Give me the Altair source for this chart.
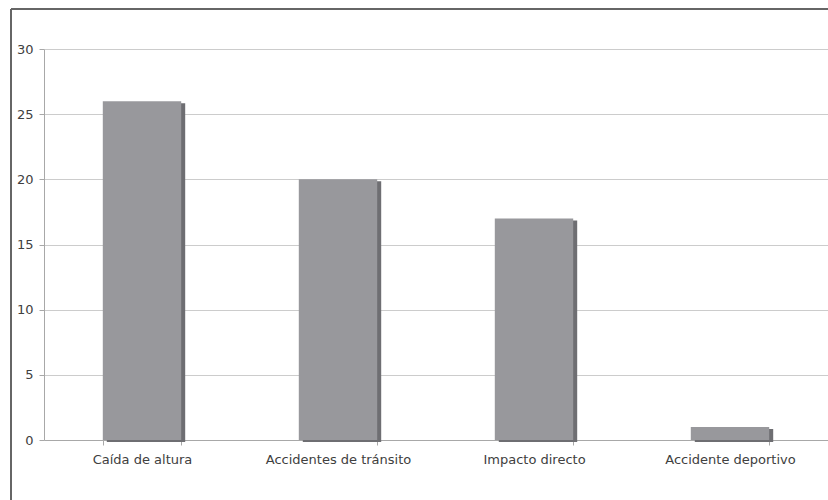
import altair as alt
import pandas as pd

categories = ["Caída de altura", "Accidentes de tránsito", "Impacto directo", "Accidente deportivo"]
values = [26, 20, 17, 1]

df = pd.DataFrame({"cat": categories, "val": values})

xenc = alt.X("cat:N", sort=categories, title=None,
             scale=alt.Scale(paddingInner=0.6, paddingOuter=0.3),
             axis=alt.Axis(labelAngle=0, tickBand="extent", domainColor="#a8a8a8",
                           tickColor="#a8a8a8", tickSize=5, labelPadding=8,
                           labelColor="#404040", labelFontSize=13, labelFont="DejaVu Sans",
                           grid=False))
yenc = alt.Y("val:Q", title=None,
             scale=alt.Scale(domain=[0, 30], nice=False),
             axis=alt.Axis(values=[0, 5, 10, 15, 20, 25, 30], domainColor="#a8a8a8",
                           tickColor="#a8a8a8", tickSize=5, labelPadding=6,
                           labelColor="#404040", labelFontSize=13, labelFont="DejaVu Sans",
                           gridColor="#cccccc", gridWidth=1))

shadow = alt.Chart(df).mark_bar(color="#6e6e72", xOffset=4, x2Offset=4, yOffset=2, y2Offset=-2).encode(
    x=xenc, y=yenc)
bars = alt.Chart(df).mark_bar(color="#98989c").encode(x=xenc, y=yenc)

left_border = alt.Chart(df).mark_rule(color="#666666", strokeWidth=1.5).encode(
    x=alt.value(-33), y=alt.value(-40), y2=alt.value(460))
top_border = alt.Chart(df).mark_rule(color="#666666", strokeWidth=1.5).encode(
    x=alt.value(-33), x2=alt.value(800), y=alt.value(-40))

chart = alt.layer(shadow, bars, left_border, top_border).properties(
    width=784, height=391,
    autosize=alt.AutoSizeParams(type="none"),
    padding={"left": 44, "top": 49, "right": 0, "bottom": 60},
    background="white",
).configure_view(stroke=None)

chart.save("out.html", embed_options={"renderer": "svg", "actions": False})
